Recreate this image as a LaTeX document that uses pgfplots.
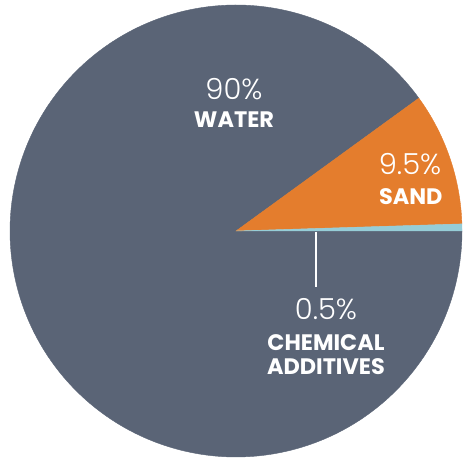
\documentclass[border=0pt]{standalone}
\usepackage{fontspec}
\setmainfont{Poppins}
\newfontfamily\lightfont{Poppins Light}
\usepackage{pgfplots}
\pgfplotsset{compat=1.18}

\definecolor{waterc}{HTML}{5A6476}
\definecolor{sandc}{HTML}{E47D2D}
\definecolor{chemc}{HTML}{96CDD7}

% shares in percent
\def\chem{0.5}
\def\sand{9.5}
\def\water{90}
\pgfmathsetmacro{\aO}{0}
\pgfmathsetmacro{\aI}{\aO+3.6*\chem}
\pgfmathsetmacro{\aII}{\aI+3.6*\sand}
\pgfmathsetmacro{\aIII}{\aII+3.6*\water}

\begin{document}
\begin{tikzpicture}
\begin{axis}[
  hide axis, scale only axis,
  width=232pt, height=231.5pt,
  xmin=-1.0442, xmax=1.0088,
  ymin=-1.0265, ymax=1.0221,
  clip=false,
]
\path (rel axis cs:0,0) rectangle (rel axis cs:1,1);
% slices
\addplot[draw=waterc, fill=waterc, line width=0.2pt, domain=\aII:\aIII, samples=240]
  ({cos(x)},{sin(x)}) -- (axis cs:0,0) -- cycle;
\addplot[draw=sandc, fill=sandc, line width=0.2pt, domain=\aI:\aII, samples=40]
  ({cos(x)},{sin(x)}) -- (axis cs:0,0) -- cycle;
\addplot[draw=chemc, fill=chemc, line width=0.2pt, domain=\aO:\aI, samples=6]
  ({cos(x)},{sin(x)}) -- (axis cs:0,0) -- cycle;
% leader line
\addplot[white, line width=1.1pt] coordinates {(0.354,-0.004) (0.354,-0.248)};
% labels
\node[white, font=\lightfont\fontsize{14.5}{16}\selectfont] at (axis cs:-0.009,0.628) {90\%};
\node[white, font=\bfseries\fontsize{11.2}{12}\selectfont] at (axis cs:-0.009,0.491) {WATER};
\node[white, font=\lightfont\fontsize{14.5}{16}\selectfont] at (axis cs:0.770,0.296) {9.5\%};
\node[white, font=\bfseries\fontsize{11.2}{12}\selectfont] at (axis cs:0.773,0.153) {SAND};
\node[white, font=\lightfont\fontsize{14.5}{16}\selectfont] at (axis cs:0.398,-0.345) {0.5\%};
\node[white, font=\bfseries\fontsize{11.2}{12}\selectfont] at (axis cs:0.398,-0.496) {CHEMICAL};
\node[white, font=\bfseries\fontsize{11.2}{12}\selectfont] at (axis cs:0.398,-0.602) {ADDITIVES};
\end{axis}
\end{tikzpicture}
\end{document}
